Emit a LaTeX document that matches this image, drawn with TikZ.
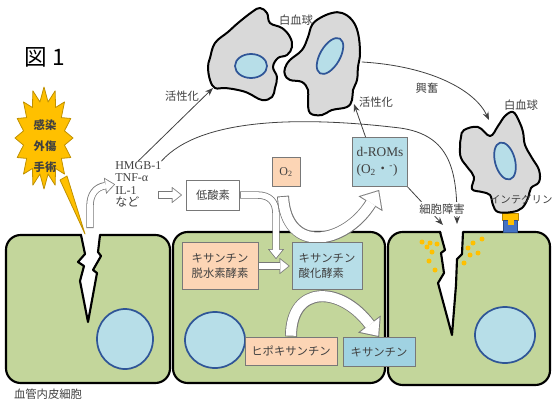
\documentclass[tikz,border=0pt]{standalone}
\usepackage{fontspec}
\setmainfont{Liberation Serif}
\newfontfamily\jp{Noto Sans CJK JP}
\usetikzlibrary{arrows.meta,calc}

\definecolor{cellgreen}{RGB}{195,214,155}
\definecolor{nucfill}{RGB}{183,222,232}
\definecolor{nucline}{RGB}{47,85,151}
\definecolor{wbcgray}{RGB}{217,217,217}
\definecolor{peach}{RGB}{252,213,181}
\definecolor{skyblue}{RGB}{183,222,232}
\definecolor{deepsky}{RGB}{160,210,226}
\definecolor{boxline}{RGB}{120,120,120}
\definecolor{burstgold}{RGB}{255,192,0}
\definecolor{intblue}{RGB}{68,114,196}
\definecolor{inkgray}{RGB}{64,64,64}

\tikzset{
  cell/.style={draw=black,line width=1.6pt,fill=cellgreen,rounded corners=11pt},
  nucleus/.style={draw=nucline,line width=1.3pt,fill=nucfill},
  wbc/.style={draw=black,line width=1.5pt,fill=wbcgray},
  crackedge/.style={draw=black,line width=1.6pt},
  burst/.style={fill=burstgold,draw=burstgold!75!black,line width=0.6pt},
  jptext/.style={font=\jp\fontsize{8.5}{10.5}\selectfont,text=inkgray},
  chembox/.style={draw=boxline,line width=0.6pt,font=\jp\fontsize{8.5}{11}\selectfont,text=inkgray,align=left,inner sep=0pt},
  signal/.style={draw=inkgray,line width=0.6pt,-{Stealth[length=6pt,width=4.5pt]}},
  hollow/.style={draw=boxline,line width=9pt,line cap=butt,-{Triangle[length=12pt,width=21pt,line width=0.01pt]},
    postaction={draw=white,line width=7.6pt,shorten <=0.7pt,shorten >=1.06pt,-{Triangle[length=10.24pt,width=17.9pt,line width=0.01pt]}}},
  hollowsm/.style={draw=boxline,line width=5.5pt,line cap=butt,-{Triangle[length=7.5pt,width=12pt,line width=0.01pt]},
    postaction={draw=white,line width=4.3pt,shorten <=0.6pt,shorten >=0.96pt,-{Triangle[length=5.94pt,width=9.5pt,line width=0.01pt]}}}
}

\begin{document}
\begin{tikzpicture}[line cap=round,line join=round,x=0.75pt,y=-0.75pt]
\useasboundingbox (0,0) rectangle (556,403);
\clip (0,0) rectangle (556,403);
\node[font=\jp\fontsize{17}{17}\selectfont] (fig) at (45,57) {図 1};

\draw[cell] (6,235) rectangle (170,383);
\draw[cell] (173,232) rectangle (385,383);
\draw[cell] (388,232) rectangle (550,385);
\draw[nucleus] (125,339) ellipse [x radius=28, y radius=30];
\draw[nucleus] (215,340) ellipse [x radius=30, y radius=28];
\draw[nucleus] (505,335) ellipse [x radius=30, y radius=28];

\fill[white] (81,229) -- (85,254) -- (78,262) -- (84,266) -- (80,281) -- (88,322) -- (97,273) -- (93,270) -- (101,256) -- (98,252) -- (100,229) -- cycle;
\draw[crackedge] (81,235) -- (85,254) -- (78,262) -- (84,266) -- (80,281) -- (88,322) -- (97,273) -- (93,270) -- (101,256) -- (98,252) -- (100,235);
\fill[white] (440,226) -- (445,250) -- (441,253) -- (444,273) -- (438,283) -- (452,335) -- (456,285) -- (457,259) -- (462,254) -- (463,226) -- cycle;
\draw[crackedge] (440,232) -- (445,250) -- (441,253) -- (444,273) -- (438,283) -- (452,335) -- (456,285) -- (457,259) -- (462,254) -- (463,232);
\foreach \p in {(422,242),(430,243),(437,244),(427,247),(432,252),(429,261),(435,270),(473,243),(482,239),(468,248),(478,253),(470,255),(464,263)}
  \fill[burstgold] \p circle [radius=2.5];

\draw[burst] (60,180) -- (67,176) -- (85,234) -- cycle;
\draw[burst] plot[samples at={0,...,31}] ({44+29*(0.86+0.14*cos(\x*180))*cos(\x*11.25)},{138+51*(0.86+0.14*cos(\x*180))*sin(\x*11.25)}) -- cycle;
\node[font=\jp\bfseries\fontsize{8.5}{15.5}\selectfont,align=center,text=inkgray] (cause) at (45,146) {感染\\外傷\\手術};

\draw[fill=burstgold,draw=burstgold!70!black,line width=0.4pt] (502,213) rectangle (518,220);
\draw[fill=intblue,draw=intblue!70!black,line width=0.4pt] (503,220) rectangle (517,232);
\fill[burstgold] (508,220) rectangle (514,225);

\draw[wbc] plot[smooth cycle,tension=0.65] coordinates {(210,58) (215,43) (228,32) (238,23) (252,12) (260,8) (267,13) (270,23) (282,28) (290,37) (292,47) (287,55) (278,58) (273,67) (277,77) (275,88) (272,97) (262,100) (248,93) (238,90) (225,88) (215,88) (210,80) (208,67)};
\draw[nucleus] (251,66) ellipse [x radius=16, y radius=12];
\draw[wbc] plot[smooth cycle,tension=0.65] coordinates {(285,68) (290,60) (302,50) (308,37) (312,25) (320,18) (332,13) (342,13) (352,20) (358,33) (360,53) (358,67) (357,80) (353,90) (352,100) (347,107) (332,110) (322,115) (310,113) (308,100) (308,90) (302,82) (290,80) (285,75)};
\draw[nucleus] (330,56) ellipse [x radius=10, y radius=20, rotate=-30];
\draw[wbc] plot[smooth cycle,tension=0.65] coordinates {(464,130) (478,127) (490,136) (498,126) (505,116) (513,112) (519,121) (523,132) (525,145) (532,158) (539,170) (539,182) (531,188) (528,198) (522,208) (512,212) (498,212) (493,205) (490,195) (482,192) (472,189) (474,177) (468,168) (461,158) (460,147) (461,137)};
\draw[nucleus] (505,161) ellipse [x radius=10, y radius=19, rotate=15];

\coordinate (wbcAfoot) at (213,88);
\coordinate (wbcBfoot) at (354,104);
\coordinate (wbcBside) at (362,62);
\coordinate (wbcChead) at (489,120);
\coordinate (crackA) at (90,228);
\coordinate (crackC) at (457,224);
\coordinate (crackCside) at (443,225);
\coordinate (lowin) at (158,195);
\coordinate (dhturn) at (276,259);

\node[anchor=north west,align=left,inner sep=0pt,font=\fontsize{9}{9.4}\selectfont,text=inkgray] (cyto) at (115,161) {HMGB-1\\TNF-α\\IL-1\\{\jp など}};
\node[chembox,minimum width=40pt,minimum height=22.5pt] (hypoxia) at (213,195) {低酸素};
\node[chembox,minimum width=21pt,minimum height=22pt] (o2) at (286,172) {};
\node[chembox,minimum width=41pt,minimum height=37pt] (droms) at (380,162) {};
\node[chembox,minimum width=57pt,minimum height=35pt] (xdh) at (220,266) {};
\node[chembox,minimum width=52.5pt,minimum height=35pt] (xo) at (327,266) {};
\node[chembox,minimum width=69pt,minimum height=21pt] (hypox) at (291,351) {};
\node[chembox,minimum width=54pt,minimum height=22pt] (xan) at (379,352) {};

\draw[hollowsm] (crackA) -- (90,206) .. controls (90,194) and (96,187) .. (cyto.west);
\draw[hollowsm] (lowin) -- ($(hypoxia.west)+(-4,0)$);
\draw[hollowsm] (hypoxia.east) -- (257,195) .. controls (270,195) and (276,202) .. (276,214) -- (dhturn);
\draw[hollowsm] (xdh.east) -- ($(xo.west)+(-2,0)$);
\draw[hollow] ($(o2.south)+(-3,9)$) .. controls (286,255) and (345,245) .. ($(droms.south)+(-1,3)$);
\draw[hollow] (hypox.north) .. controls (291,285) and (340,285) .. (xan.north);

\node[chembox,fill=white,minimum width=40pt,minimum height=22.5pt] at (hypoxia) {低酸素};
\node[chembox,fill=peach,minimum width=21pt,minimum height=22pt,font=\fontsize{9}{10}\selectfont] at (o2) {O\textsubscript{2}};
\node[chembox,fill=skyblue,minimum width=41pt,minimum height=37pt,font=\fontsize{10}{12.5}\selectfont] at (droms) {d-ROMs\\(O\textsubscript{2}{\jp ・}\textsuperscript{-})};
\node[chembox,fill=peach,minimum width=57pt,minimum height=35pt] at (xdh) {キサンチン\\脱水素酵素};
\node[chembox,fill=skyblue,minimum width=52.5pt,minimum height=35pt] at (xo) {キサンチン\\酸化酵素};
\node[chembox,fill=peach,minimum width=69pt,minimum height=21pt] at (hypox) {ヒポキサンチン};
\node[chembox,fill=deepsky,minimum width=54pt,minimum height=22pt] at (xan) {キサンチン};

\draw[signal] (cyto.north) -- (wbcAfoot);
\draw[signal] (cyto.north east) .. controls (200,118) and (300,116) .. (400,128) .. controls (450,135) and (457,170) .. (crackC);
\draw[signal] (droms.120) -- (wbcBfoot);
\draw[signal] (droms.south east) -- (crackCside);
\draw[signal] (wbcBside) .. controls (430,66) and (475,90) .. (wbcChead);

\node[jptext] (wbcBname) at (296,20) {白血球};
\node[jptext] (wbcCname) at (521,105) {白血球};
\node[jptext] (actA) at (182,96) {活性化};
\node[jptext] (actB) at (376,102) {活性化};
\node[jptext] (excite) at (427,88) {興奮};
\node[jptext,fill=white,inner sep=1pt] (injury) at (442,209) {細胞障害};
\node[jptext,font=\jp\fontsize{7.8}{9}\selectfont,anchor=east,inner sep=1pt] (integrin) at (554,199) {インテグリン};
\node[jptext] (endo) at (48,394) {血管内皮細胞};
\end{tikzpicture}
\end{document}
